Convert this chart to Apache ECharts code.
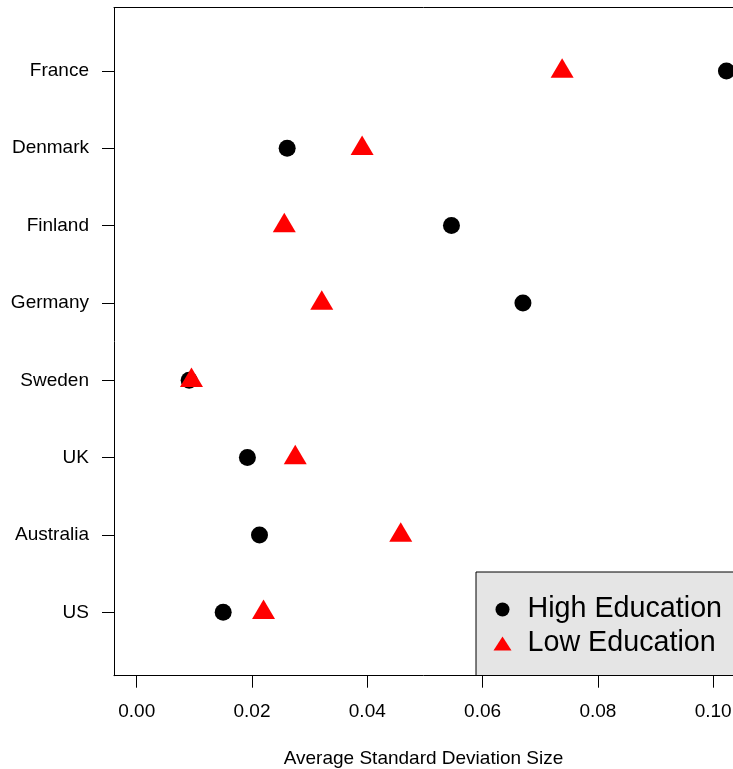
<!DOCTYPE html>
<html>
<head>
<meta charset="utf-8">
<script src="https://cdn.jsdelivr.net/npm/echarts@6/dist/echarts.min.js"></script>
<style>html,body{margin:0;padding:0;background:#fff}#c{width:733px;height:769px}</style>
</head>
<body>
<div id="c"></div>
<script>
// Data (top to bottom as drawn)
var countries = ["France","Denmark","Finland","Germany","Sweden","UK","Australia","US"];
var highEdu = [0.1023, 0.0261, 0.0546, 0.0670, 0.0091, 0.0192, 0.0213, 0.0150];
var lowEdu  = [0.0738, 0.0391, 0.0256, 0.0321, 0.0095, 0.0275, 0.0458, 0.0220];
var xTicks = [0, 0.02, 0.04, 0.06, 0.08, 0.10];
var xTickLabels = ["0.00","0.02","0.04","0.06","0.08","0.10"];
var seriesNames = ["High Education","Low Education"];

var n = countries.length;
var yPos = countries.map(function(c, i){ return n - i; });
function pairs(arr){ return arr.map(function(v, i){ return [v, yPos[i]]; }); }

var FONT = "Liberation Sans";
var XMIN = -0.00394, XMAX = 0.10344;
var chart = echarts.init(document.getElementById('c'), null, {renderer: 'canvas'});
chart.setOption({
  backgroundColor: '#ffffff',
  animation: false,
  grid: {left: 114, right: 0, top: 7.5, bottom: 93.3, show: false, containLabel: false, outerBoundsMode: 'none'},
  xAxis: [{
    type: 'value', min: XMIN, max: XMAX, position: 'bottom',
    axisLine: {show: true, onZero: false, lineStyle: {color: '#000', width: 1}},
    splitLine: {show: false},
    axisTick: {show: true, inside: false, length: 12, lineStyle: {color: '#000', width: 1}, customValues: xTicks},
    axisLabel: {show: true, margin: 26.5, color: '#000', fontFamily: FONT, fontSize: 19, customValues: xTicks,
      formatter: function(v){ var i = xTicks.indexOf(v); return i >= 0 ? xTickLabels[i] : ''; }},
    name: 'Average Standard Deviation Size', nameLocation: 'middle', nameGap: 73.5,
    nameTextStyle: {color: '#000', fontFamily: FONT, fontSize: 19}
  }, {
    type: 'value', min: XMIN, max: XMAX, position: 'top',
    axisLine: {show: true, onZero: false, lineStyle: {color: '#000', width: 1}},
    splitLine: {show: false}, axisTick: {show: false}, axisLabel: {show: false}
  }],
  yAxis: {
    type: 'value', min: 0.18, max: n + 0.82,
    axisLine: {show: true, onZero: false, lineStyle: {color: '#000', width: 1}},
    splitLine: {show: false},
    axisTick: {show: true, inside: false, length: 12, lineStyle: {color: '#000', width: 1}, customValues: yPos},
    axisLabel: {show: true, margin: 25, color: '#000', fontFamily: FONT, fontSize: 19, customValues: yPos,
      formatter: function(v){ var i = yPos.indexOf(v); return i >= 0 ? countries[i] : ''; }}
  },
  legend: {
    orient: 'vertical', left: 476, top: 572,
    padding: [20.5, 60, 15, 17.5],
    itemGap: 0, itemWidth: 18, itemHeight: 14,
    backgroundColor: '#e5e5e5', borderColor: '#000', borderWidth: 1,
    selectedMode: false,
    textStyle: {color: '#000', fontFamily: FONT, fontSize: 28.7, lineHeight: 34, padding: [0, 0, 0, 11]},
    data: [
      {name: seriesNames[0], icon: 'circle', itemStyle: {color: '#000'}},
      {name: seriesNames[1], icon: 'triangle', itemStyle: {color: '#ff0000'}}
    ]
  },
  series: [
    {name: seriesNames[0], type: 'scatter', data: pairs(highEdu), symbol: 'circle', symbolSize: 17,
      itemStyle: {color: '#000', opacity: 1}, emphasis: {disabled: true}},
    {name: seriesNames[1], type: 'scatter', data: pairs(lowEdu), symbol: 'triangle', symbolSize: [23, 19.5],
      symbolOffset: [0, -3], itemStyle: {color: '#ff0000', opacity: 1}, emphasis: {disabled: true}}
  ]
});
</script>
</body>
</html>
